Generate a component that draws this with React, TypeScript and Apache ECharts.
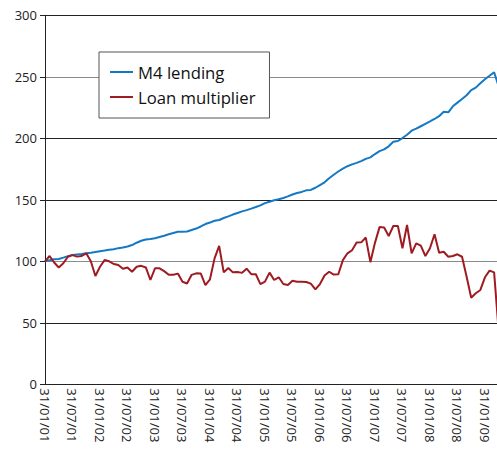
import React, { useEffect, useRef } from "react";
import * as echarts from "echarts";

// Monthly month-end dates from 31/01/01 to 30/04/09 (100 points)
const startYear = 2001;
const monthCount = 100;
const dateLabels: string[] = [];
for (let k = 0; k < monthCount; k++) {
  const y = startYear + Math.floor(k / 12);
  const m = k % 12; // 0-based
  const lastDay = new Date(y, m + 1, 0).getDate();
  dateLabels.push(
    `${String(lastDay).padStart(2, "0")}/${String(m + 1).padStart(2, "0")}/${String(y % 100).padStart(2, "0")}`
  );
}

const m4Lending: number[] = [
  100, 100.8, 101.7, 101.9, 103, 104.2, 105.2, 105.6, 106, 106.5,
  107, 107.6, 108.2, 108.7, 109.3, 109.8, 110.7, 111.3, 112, 113.2,
  115.1, 116.7, 117.7, 118.1, 118.7, 119.8, 120.8, 122, 123, 124,
  124.1, 124.2, 125.5, 126.6, 128.3, 130.3, 131.5, 133, 133.6, 135.2,
  136.5, 138, 139.3, 140.6, 141.6, 142.8, 144.1, 145.5, 147.3, 148.4,
  149.6, 150.5, 151.5, 152.8, 154.3, 155.5, 156.4, 157.7, 158, 159.8,
  162, 164.2, 167.5, 170.4, 173, 175.4, 177.3, 178.8, 180, 181.5,
  183.3, 184.5, 187.2, 189.6, 191, 193.5, 197.2, 197.8, 200.2, 202.9,
  206.2, 207.8, 209.8, 211.8, 213.7, 215.7, 218, 221.6, 221.1, 226,
  229, 232, 235, 239.2, 241.2, 244.8, 248, 250.8, 253.7, 242,
];

const loanMultiplier: number[] = [
  100, 104.3, 99, 95, 98.4, 103.7, 105, 103.8, 104.3, 106.5,
  100, 88, 95.6, 101, 100, 97.8, 97, 94, 95, 91.5,
  95.6, 96.3, 95, 84.8, 94.3, 94.3, 92, 89, 89, 90,
  83.4, 82, 89, 90.2, 90, 80.7, 85.4, 102.4, 112.5, 91,
  94.6, 91, 91.3, 90.6, 94, 89.5, 89.5, 81.5, 83.5, 90.8,
  84.8, 87, 81.5, 80.7, 84.2, 83.4, 83.4, 83.2, 81.8, 77.2,
  81.5, 88.5, 91.5, 89.2, 89.5, 101, 106.5, 109, 115.2, 115.4,
  119.3, 99.3, 115, 127.8, 127.4, 120.5, 128.7, 128.7, 110.6, 129.5,
  106.5, 114.6, 112.7, 104.3, 110.6, 122, 107, 107.8, 103.7, 104.3,
  105.7, 103.7, 87.5, 70.4, 74, 76.7, 87, 92.4, 91, 43,
];

const seriesNames = ["M4 lending", "Loan multiplier"];
const yMin = 0;
const yMax = 300;
const yStep = 50;

export default function App() {
  const ref = useRef<HTMLDivElement>(null);
  useEffect(() => {
    if (!ref.current) return;
    const chart = echarts.init(ref.current, undefined, { renderer: "svg" });
    const font = "Open Sans";
    chart.setOption({
      animation: false,
      backgroundColor: "#ffffff",
      grid: {
        left: 45,
        top: 15.3,
        right: -1.7,
        bottom: 65.7,
        containLabel: false,
        outerBoundsMode: "none",
      },
      legend: {
        left: 99,
        top: 52,
        orient: "vertical",
        backgroundColor: "#ffffff",
        borderColor: "#555555",
        borderWidth: 1,
        borderRadius: 0,
        padding: [10, 14, 11, 11],
        itemGap: 5,
        itemWidth: 23,
        itemHeight: 2,
        icon: "rect",
        textStyle: {
          fontFamily: font,
          fontSize: 16.7,
          color: "#111111",
          lineHeight: 20,
        },
        data: seriesNames,
      },
      xAxis: {
        type: "category",
        boundaryGap: false,
        data: dateLabels,
        axisLine: { show: true, lineStyle: { color: "#222222", width: 1 } },
        axisTick: { show: false },
        axisLabel: {
          interval: 5,
          rotate: -90,
          margin: 4,
          fontFamily: font,
          fontSize: 13,
          color: "#222222",
        },
        splitLine: { show: false },
      },
      yAxis: {
        type: "value",
        min: yMin,
        max: yMax,
        interval: yStep,
        axisLine: { show: true, lineStyle: { color: "#222222", width: 1 } },
        axisTick: { show: true, length: 5, lineStyle: { color: "#222222" } },
        axisLabel: {
          margin: 8,
          fontFamily: font,
          fontSize: 13,
          color: "#222222",
        },
        splitLine: {
          show: true,
          lineStyle: {
            color: ["#222222", "#222222", "#8a8a8a", "#222222", "#222222", "#8a8a8a", "#222222"],
            width: 1,
          },
        },
      },
      series: [
        {
          name: seriesNames[0],
          type: "line",
          data: m4Lending,
          showSymbol: false,
          lineStyle: { color: "#1479c4", width: 2 },
          itemStyle: { color: "#1479c4" },
        },
        {
          name: seriesNames[1],
          type: "line",
          data: loanMultiplier,
          showSymbol: false,
          lineStyle: { color: "#9e1b22", width: 2 },
          itemStyle: { color: "#9e1b22" },
        },
      ],
    });
    return () => chart.dispose();
  }, []);
  return <div ref={ref} style={{ width: 497, height: 450, position: "absolute", left: 0, top: 0 }} />;
}
